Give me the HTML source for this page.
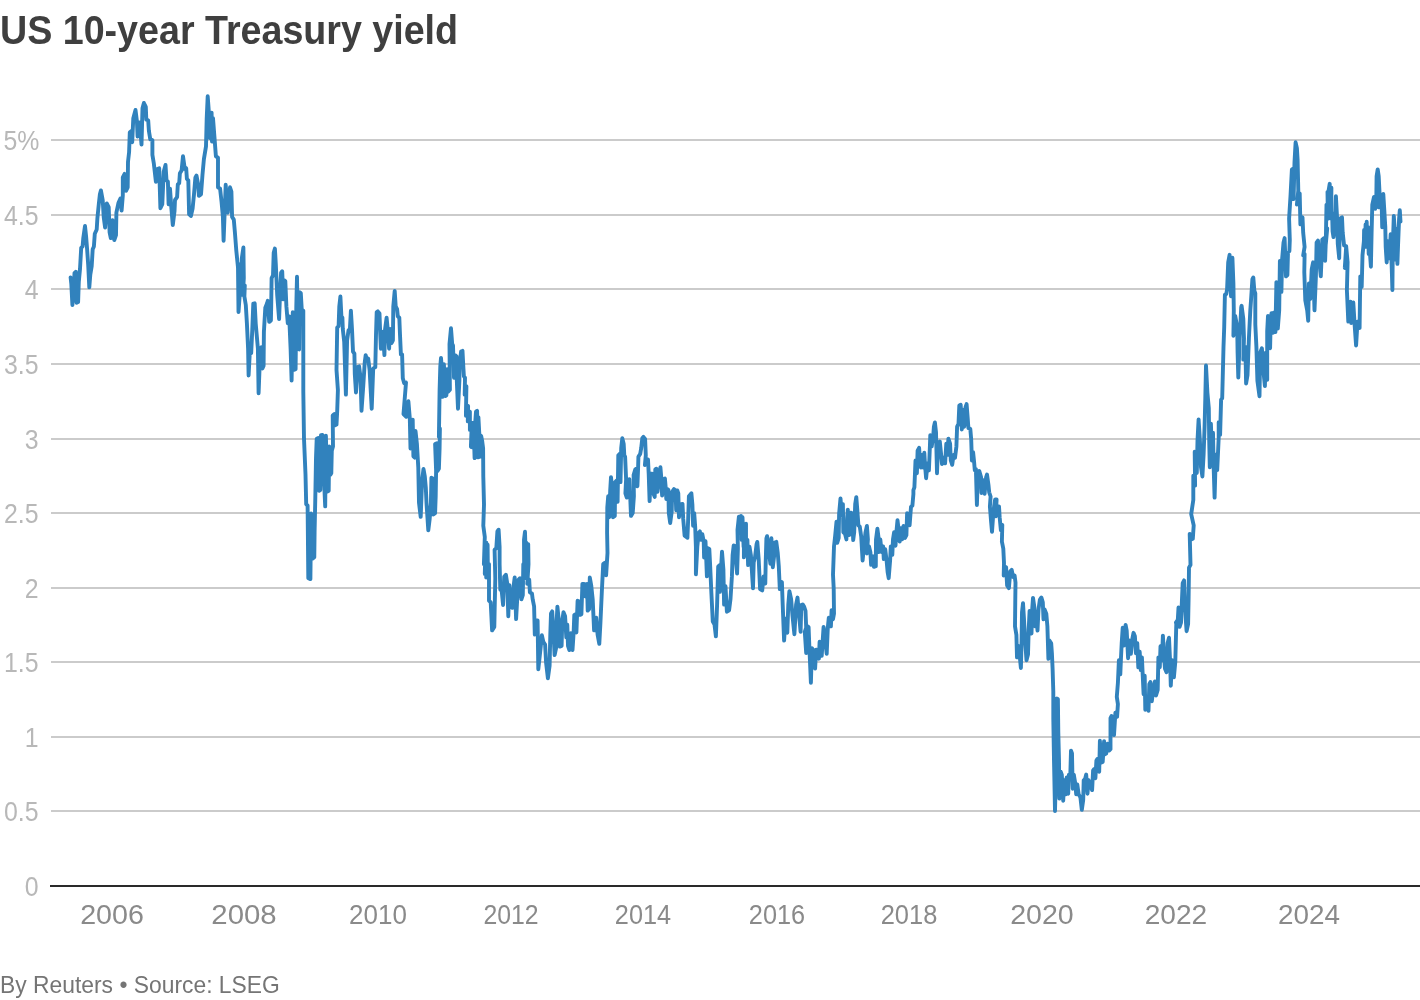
<!DOCTYPE html>
<html lang="en"><head><meta charset="utf-8"><title>US 10-year Treasury yield</title>
<style>
html,body{margin:0;padding:0;background:#fff}
body{width:1420px;height:1000px;position:relative;overflow:hidden;font-family:"Liberation Sans",sans-serif}
.title{position:absolute;left:0.4px;top:6px;font-size:41px;font-weight:bold;color:#3f3f3f;white-space:nowrap;line-height:48px;transform-origin:0 50%;transform:scaleX(0.9177)}
.gl{position:absolute;left:51px;right:0;height:2px;background:#cbcbcb}
.ax0{position:absolute;left:50px;right:0;height:2px;background:#2a2a2a}
.yl{position:absolute;left:0;width:38.5px;text-align:right;font-size:27.5px;line-height:30px;color:#b8b8b8;white-space:nowrap;transform-origin:100% 50%;transform:scaleX(0.904)}
.xl{position:absolute;top:900.3px;width:100px;text-align:center;font-size:27px;line-height:30px;color:#8a8a8a;white-space:nowrap;transform:scaleX(1.052)}
.foot{position:absolute;left:-0.4px;top:970.3px;font-size:24.4px;line-height:30px;color:#757575;white-space:nowrap;transform-origin:0 50%;transform:scaleX(0.937)}
svg{position:absolute;left:0;top:0}
</style></head><body>
<div class="title">US 10-year Treasury yield</div>
<div class="ax0" style="top:885px"></div>
<div class="yl" style="top:872.00px;width:38.5px">0</div>
<div class="gl" style="top:810px"></div>
<div class="yl" style="top:797.00px;width:38.5px">0.5</div>
<div class="gl" style="top:736px"></div>
<div class="yl" style="top:723.00px;width:38.5px">1</div>
<div class="gl" style="top:661px"></div>
<div class="yl" style="top:648.00px;width:38.5px">1.5</div>
<div class="gl" style="top:587px"></div>
<div class="yl" style="top:574.00px;width:38.5px">2</div>
<div class="gl" style="top:512px"></div>
<div class="yl" style="top:499.00px;width:38.5px">2.5</div>
<div class="gl" style="top:438px"></div>
<div class="yl" style="top:425.00px;width:38.5px">3</div>
<div class="gl" style="top:363px"></div>
<div class="yl" style="top:350.00px;width:38.5px">3.5</div>
<div class="gl" style="top:288px"></div>
<div class="yl" style="top:275.00px;width:38.5px">4</div>
<div class="gl" style="top:214px"></div>
<div class="yl" style="top:201.00px;width:38.5px">4.5</div>
<div class="gl" style="top:139px"></div>
<div class="yl" style="top:126.00px;width:36.3px">5%</div>
<div class="xl" style="left:62.11px;transform:scaleX(1.0603)">2006</div>
<div class="xl" style="left:193.62px;transform:scaleX(1.0871)">2008</div>
<div class="xl" style="left:327.76px;transform:scaleX(0.9619)">2010</div>
<div class="xl" style="left:460.72px;transform:scaleX(0.9191)">2012</div>
<div class="xl" style="left:593.04px;transform:scaleX(0.9370)">2014</div>
<div class="xl" style="left:726.71px;transform:scaleX(0.9363)">2016</div>
<div class="xl" style="left:859.21px;transform:scaleX(0.9426)">2018</div>
<div class="xl" style="left:992.32px;transform:scaleX(1.0580)">2020</div>
<div class="xl" style="left:1125.80px;transform:scaleX(1.0411)">2022</div>
<div class="xl" style="left:1258.55px;transform:scaleX(1.0310)">2024</div>

<svg width="1420" height="1000" viewBox="0 0 1420 1000"><path d="M70.6 277.4L71.3 283.8L72.4 305.0L73.7 288.7L74.5 273.2L75.8 271.8L76.6 302.8L78.1 302.1L78.8 281.7L80.0 269.0L81.2 247.8L82.6 246.4L83.3 238.0L85.0 226.0L86.1 236.5L87.1 249.2L88.2 264.8L89.3 287.3L90.3 274.6L91.7 266.2L92.7 249.2L93.9 246.4L94.8 233.7L96.7 229.5L97.4 218.2L98.8 204.1L99.9 194.2L100.9 190.4L102.7 200.0L103.7 216.9L105.1 227.5L106.8 203.5L108.7 207.1L109.6 232.3L110.8 238.0L112.5 220.3L114.3 240.1L116.0 235.1L116.4 212.6L118.5 202.7L120.4 198.5L121.6 210.5L122.8 195.6L122.8 177.4L124.6 173.9L126.0 190.8L127.7 187.3L128.0 161.9L129.1 152.1L129.8 132.3L131.7 130.9L132.2 142.2L133.3 118.2L135.5 110.0L136.9 121.0L137.6 136.5L139.7 122.4L141.5 144.6L142.5 108.3L143.9 103.0L145.8 106.9L146.3 119.6L148.2 120.3L148.9 130.9L150.3 139.4L152.4 140.1L152.4 154.9L153.8 163.3L155.9 181.7L157.3 169.0L159.2 168.3L160.4 208.2L162.3 204.2L163.7 171.8L165.5 165.0L166.5 180.3L167.9 181.7L168.6 204.2L170.0 188.7L171.4 208.5L172.8 225.1L174.5 211.3L175.0 200.0L177.1 197.2L177.8 184.5L179.2 183.1L179.9 173.2L181.6 170.4L183.0 156.3L184.8 169.0L186.2 168.3L186.9 178.9L188.3 180.3L189.1 214.1L190.9 216.0L192.6 208.5L194.0 194.4L195.4 177.4L196.5 175.6L198.2 184.5L198.9 195.8L201.0 194.4L202.5 174.6L203.9 159.1L206.0 146.4L206.7 118.2L207.7 96.3L208.8 111.2L209.8 138.0L211.6 112.6L212.0 141.5L213.0 118.2L214.4 136.5L215.9 156.3L218.0 157.7L218.0 187.3L220.1 188.7L221.5 201.4L222.9 216.9L223.6 240.8L225.7 184.8L227.8 212.7L230.0 187.3L231.4 191.6L232.1 216.9L233.8 219.6L234.9 232.3L236.3 250.6L238.0 267.6L238.5 312.1L239.9 292.3L239.0 271.2L241.0 295.1L240.4 264.1L242.4 292.3L241.8 258.5L243.4 247.5L243.8 278.2L243.0 292.3L244.8 285.3L244.4 296.5L245.8 305.0L246.9 323.3L248.1 348.7L248.6 375.5L249.7 354.4L251.2 353.0L252.3 329.0L253.3 303.6L254.7 303.3L255.7 323.3L256.8 336.0L257.9 348.7L258.6 393.2L260.3 348.7L261.3 347.3L262.4 368.5L263.6 365.7L263.9 331.8L265.3 307.8L267.0 303.6L267.8 300.8L269.2 321.9L270.9 320.5L271.2 306.4L271.6 278.2L273.0 275.4L273.7 252.8L274.9 248.6L275.8 264.1L277.2 295.1L279.1 319.1L280.1 292.3L281.1 272.6L282.2 271.2L283.3 299.4L284.3 280.3L285.3 281.0L286.4 306.4L287.8 323.3L289.2 316.3L290.6 348.7L291.6 380.5L292.8 312.1L293.8 369.9L295.6 369.2L296.3 306.4L297.0 276.8L298.0 348.7L299.1 349.4L299.8 292.3L300.8 293.0L301.9 312.1L303.3 310.6L303.3 391.0L304.0 438.7L305.5 474.6L306.2 504.2L307.6 505.7L308.3 578.3L310.4 579.1L311.1 513.5L312.5 558.6L314.3 557.2L314.6 531.8L315.3 498.0L316.0 457.7L316.7 438.7L318.2 438.0L319.1 490.8L320.3 490.1L321.0 435.1L322.4 434.9L323.8 474.6L325.2 506.4L325.9 435.8L327.3 491.6L328.7 490.8L329.2 446.4L330.4 474.6L331.3 473.2L331.8 450.6L333.0 446.4L332.7 415.4L334.4 414.0L335.1 425.3L336.5 424.6L337.2 411.2L337.9 390.0L336.5 369.9L337.2 327.6L338.6 326.2L339.3 306.4L340.4 296.5L341.4 316.3L342.4 317.7L342.8 329.0L344.2 341.7L345.9 394.6L347.1 340.3L348.5 330.4L349.9 329.0L350.9 310.6L352.0 329.0L353.0 351.6L354.4 353.7L354.8 374.1L356.0 392.5L357.6 367.1L359.1 366.4L360.5 376.9L361.5 410.8L363.3 385.4L364.7 362.8L365.7 355.1L366.8 360.0L368.2 358.6L369.6 369.9L371.7 408.7L373.2 368.5L375.3 367.1L376.0 334.6L376.7 312.1L377.8 311.4L379.5 313.5L380.2 333.2L380.9 348.7L383.0 331.8L384.4 355.1L385.1 329.0L386.6 317.7L387.7 329.0L389.1 348.7L390.1 329.0L391.5 343.1L392.9 340.3L393.3 306.4L394.7 290.9L395.7 306.4L397.1 309.2L397.8 316.3L399.3 317.7L400.0 334.6L400.9 354.4L402.1 354.4L402.8 378.3L404.2 383.3L406.0 382.6L403.5 414.0L406.3 416.8L408.4 401.3L409.8 418.2L410.5 448.5L412.7 419.6L413.4 456.3L414.8 457.7L415.5 430.9L416.9 443.6L418.3 467.6L419.0 502.8L420.7 516.9L422.1 480.3L423.5 469.0L424.8 476.4L425.8 487.7L426.6 504.6L428.3 530.3L429.7 518.7L430.9 503.2L431.4 477.8L432.8 478.5L433.3 514.5L435.1 513.1L435.7 496.2L436.1 470.8L435.1 444.0L436.8 443.3L437.5 470.8L438.9 468.7L439.6 448.2L439.9 428.5L438.9 436.9L439.6 390.4L440.3 366.4L441.0 358.0L442.2 373.5L442.7 396.7L443.9 364.3L445.3 396.0L446.4 395.3L447.0 369.2L448.1 391.8L449.9 389.7L449.5 343.9L451.0 328.3L452.3 345.3L453.0 345.3L454.0 377.7L455.1 355.1L456.5 356.5L456.8 380.5L458.0 408.7L459.4 380.5L459.6 363.6L461.1 351.6L462.5 350.9L463.3 366.4L463.9 376.3L465.0 377.7L464.7 394.6L466.4 386.2L465.9 415.8L468.1 405.9L467.8 421.4L469.9 411.6L469.9 429.9L471.8 422.8L470.9 446.8L472.8 447.5L473.5 422.8L474.6 458.1L475.2 422.8L476.0 411.6L477.1 410.8L478.0 457.4L478.4 417.2L479.4 435.5L479.8 456.7L480.5 435.5L481.2 436.2L482.2 441.2L483.1 448.2L483.3 476.4L484.0 504.6L483.3 525.7L484.8 537.0L483.9 564.1L485.5 544.4L484.8 574.0L486.4 542.7L486.2 577.5L487.6 544.8L487.9 575.4L489.0 564.1L489.0 600.8L490.7 602.2L492.1 630.4L494.3 626.9L495.3 578.2L494.6 549.8L496.3 548.3L497.4 531.4L498.6 529.7L499.6 546.9L499.6 564.1L500.3 589.5L501.7 590.9L503.1 605.0L504.2 576.8L505.9 574.7L507.3 583.9L508.3 616.3L509.4 585.3L510.8 606.4L512.3 607.8L513.7 585.3L514.7 577.5L516.1 619.1L517.2 599.4L518.6 579.6L520.0 578.2L521.4 599.4L522.8 595.1L523.3 564.1L524.2 578.2L524.0 539.8L525.0 531.7L525.9 564.1L526.4 542.7L527.1 571.2L528.2 544.1L528.5 564.1L527.3 583.9L529.2 579.6L529.9 592.3L532.0 593.7L532.7 599.4L534.1 606.4L534.8 634.6L536.2 620.5L537.6 620.5L538.3 669.2L540.5 648.7L541.9 635.3L543.3 641.7L545.1 644.5L546.1 662.8L547.9 678.3L549.6 665.7L550.3 634.6L551.0 613.5L552.2 611.4L553.6 634.6L554.6 655.1L556.0 648.7L556.7 620.5L557.4 606.7L558.8 620.5L559.8 646.6L561.6 645.9L562.3 620.5L563.5 612.1L565.1 616.3L566.3 637.4L567.3 624.8L568.0 645.9L569.4 650.1L570.8 633.2L572.5 650.1L573.6 633.2L574.3 614.9L575.7 614.2L576.4 632.5L577.6 600.8L579.3 601.5L580.0 614.9L581.4 614.2L582.4 583.9L584.2 583.9L585.6 596.5L587.0 583.9L587.7 610.6L589.1 609.2L589.8 577.5L591.2 585.3L592.7 599.4L594.1 630.4L596.2 617.7L597.6 634.6L599.3 643.8L600.4 623.3L601.8 592.3L603.2 564.1L604.9 562.7L606.1 575.4L607.5 552.8L607.1 532.8L607.3 507.4L608.2 496.2L609.2 517.3L610.2 490.5L611.0 477.1L612.0 487.7L613.0 517.3L614.8 515.9L615.2 482.1L616.6 480.6L617.6 501.8L618.3 455.3L619.7 453.9L620.5 482.1L621.2 448.2L622.3 438.3L623.7 444.0L624.3 455.3L625.1 456.7L626.1 479.2L625.4 493.3L626.8 497.6L628.2 496.2L629.3 479.2L630.3 499.0L631.0 515.9L632.7 513.1L633.9 496.2L633.6 475.0L635.3 469.4L636.4 468.7L637.4 486.3L638.1 468.0L638.4 456.7L640.2 453.9L641.2 448.2L642.3 438.3L643.4 436.9L645.1 439.0L645.8 455.3L644.9 465.1L648.0 459.5L648.7 473.6L649.6 501.1L650.8 473.6L652.2 473.6L653.3 493.3L654.7 496.9L655.3 469.4L656.4 468.7L657.5 491.9L659.2 476.4L660.4 467.2L661.4 479.2L662.1 495.5L663.5 479.2L664.9 478.5L665.6 486.3L666.3 499.0L667.4 489.1L668.4 489.8L668.8 513.1L670.2 523.0L671.7 511.7L672.2 491.9L674.0 489.1L675.5 490.5L676.2 510.3L677.3 490.5L678.3 493.3L679.0 517.3L680.7 504.6L682.5 503.9L683.2 518.7L684.6 535.7L687.4 537.8L688.2 518.7L688.9 496.2L691.4 493.3L692.4 504.6L693.1 525.8L694.2 513.1L695.2 527.2L695.9 546.9L695.9 574.3L697.3 546.9L698.7 532.8L699.9 531.4L700.8 539.9L702.3 534.2L703.7 541.3L704.1 557.5L705.5 541.3L706.1 555.3L706.9 576.4L707.9 548.2L709.3 548.9L710.0 562.3L711.4 593.3L712.8 621.6L714.5 624.4L715.9 636.4L717.1 604.6L718.2 566.5L719.9 565.1L719.9 591.9L721.0 569.4L722.0 551.7L723.4 569.4L724.1 604.6L725.5 586.3L726.9 611.7L729.1 610.3L730.5 599.0L731.9 576.4L732.6 555.3L733.7 545.4L735.1 546.1L736.1 562.3L737.1 573.6L737.9 548.2L737.5 530.0L738.9 516.6L739.6 532.8L741.0 515.9L741.7 539.9L742.5 517.3L743.6 546.9L743.9 524.4L743.9 557.4L746.0 523.7L746.0 548.2L747.4 539.9L748.1 565.1L749.5 546.8L750.9 555.3L753.0 588.4L753.7 562.3L755.1 556.7L756.6 544.0L757.3 541.9L758.7 559.5L760.1 589.1L762.2 590.5L763.6 576.4L765.3 583.5L765.7 562.3L766.4 538.3L767.1 536.2L768.5 548.2L770.4 563.7L771.4 538.3L772.8 567.2L774.2 555.3L774.9 542.6L776.3 541.9L777.7 552.4L778.8 566.5L779.8 589.1L781.9 582.1L782.7 604.6L784.1 640.6L785.5 618.7L787.3 632.8L788.3 604.6L789.4 591.2L791.1 599.0L792.5 615.9L794.4 634.2L796.1 604.6L797.5 597.6L799.2 616.4L800.6 631.9L801.3 605.1L802.7 604.4L804.1 606.5L805.5 610.8L806.2 627.7L804.8 631.9L806.2 653.1L807.6 626.3L808.6 627.0L809.5 650.3L810.9 682.7L811.9 648.2L813.3 650.3L815.1 668.6L816.1 649.6L817.5 650.3L818.9 658.7L819.6 641.8L821.7 655.9L822.7 640.4L823.6 627.0L825.0 639.0L826.7 653.8L827.8 627.7L828.8 617.8L830.9 626.3L831.6 610.1L833.0 619.2L834.0 613.6L833.7 588.2L833.0 574.6L834.0 546.4L835.1 536.5L836.5 521.7L837.2 542.9L838.7 538.0L839.1 514.0L840.5 498.5L841.9 515.4L842.9 504.1L843.3 532.3L845.0 533.7L846.4 539.4L847.1 518.2L847.8 509.7L849.2 535.1L850.6 512.6L852.1 513.3L853.2 540.1L854.2 532.3L855.2 504.1L856.3 497.1L857.4 511.2L858.4 525.3L859.8 526.7L861.2 536.5L862.6 560.5L864.0 546.4L865.5 532.3L866.9 526.0L867.9 539.4L866.9 553.5L869.0 546.4L870.4 552.1L871.1 564.8L873.2 556.3L873.9 566.9L875.8 566.2L876.0 539.4L877.4 528.8L878.6 538.0L878.9 552.1L880.3 539.4L881.7 552.1L883.1 546.4L883.8 559.1L885.2 549.2L886.6 560.5L887.6 571.8L888.7 578.2L890.1 560.5L890.8 546.4L892.3 554.9L893.0 539.4L894.1 532.3L895.5 545.7L896.5 530.9L897.5 520.3L898.6 529.5L899.7 541.5L900.7 528.1L902.1 539.4L903.5 526.0L905.0 538.0L906.4 535.1L907.1 513.3L908.8 514.0L909.6 525.3L911.0 506.9L912.4 505.5L913.4 494.2L913.4 490.1L914.4 487.3L915.5 460.5L916.9 473.2L917.6 450.6L919.1 447.8L919.8 457.7L920.9 467.6L921.9 454.9L923.3 467.6L924.3 452.8L925.1 466.2L926.1 478.2L927.5 463.3L928.9 470.4L929.9 446.4L930.3 435.1L931.7 446.4L933.2 436.5L933.9 426.7L934.9 422.4L936.0 432.3L937.0 473.2L938.1 443.6L939.8 441.5L940.9 452.1L942.0 464.0L943.7 457.7L945.1 463.3L946.3 443.6L947.3 454.9L948.4 438.7L950.1 443.6L950.8 460.5L952.2 464.8L953.6 454.9L955.0 457.7L956.4 446.4L957.1 426.7L958.5 423.9L959.3 405.5L960.7 404.8L961.8 429.5L962.8 409.7L964.2 426.7L965.6 406.9L966.6 404.1L967.7 418.2L968.4 428.1L970.3 428.8L971.2 439.4L971.9 460.5L973.1 452.1L974.1 461.9L974.8 470.4L975.9 469.0L976.9 505.0L977.9 474.6L979.3 471.1L981.1 477.4L981.5 493.0L983.2 480.3L984.6 493.7L986.1 477.4L987.0 474.6L988.5 485.3L989.2 492.3L990.6 496.5L989.9 506.4L991.0 520.5L992.0 531.8L993.0 517.7L994.1 506.4L995.2 499.4L996.6 499.4L995.8 516.3L997.6 506.4L999.0 506.4L999.7 517.7L1000.9 530.4L1002.3 524.8L1001.9 541.7L1003.3 548.7L1004.0 562.8L1003.7 575.5L1006.1 567.1L1007.1 585.4L1008.9 588.2L1010.3 571.3L1011.7 569.9L1013.1 576.9L1014.6 575.5L1015.5 582.6L1015.3 598.2L1015.0 626.4L1016.4 634.9L1017.0 657.4L1018.8 646.2L1020.9 668.0L1021.6 640.5L1022.0 612.3L1023.0 603.1L1024.0 619.4L1025.1 640.5L1026.5 660.3L1028.0 654.6L1028.7 629.2L1029.6 610.9L1031.5 633.5L1032.2 609.5L1033.0 597.9L1034.3 606.7L1035.3 626.4L1036.4 612.3L1037.5 630.6L1038.5 609.5L1039.9 599.6L1041.4 597.5L1042.8 602.4L1043.5 619.4L1044.6 609.5L1046.3 613.7L1047.4 626.4L1048.4 658.9L1049.4 640.5L1051.2 643.3L1051.9 653.2L1052.6 668.7L1053.3 691.3L1053.3 718.2L1054.0 760.5L1055.0 811.0L1056.2 760.5L1056.9 698.5L1057.9 699.2L1058.3 732.3L1059.0 760.5L1059.3 798.6L1060.7 771.8L1061.8 774.6L1063.2 800.7L1064.3 780.3L1065.8 794.4L1066.7 777.4L1068.2 793.7L1068.9 774.6L1070.3 775.3L1071.0 750.6L1072.0 753.5L1072.4 774.6L1072.8 788.7L1073.8 774.6L1075.2 783.1L1076.2 794.4L1077.3 784.5L1078.7 794.4L1080.4 797.2L1081.8 809.9L1083.2 800.0L1083.7 780.3L1085.1 778.9L1086.2 774.6L1087.5 793.7L1088.6 780.3L1090.0 783.1L1092.1 790.1L1093.1 770.4L1094.2 769.0L1095.4 778.2L1096.4 760.5L1097.3 759.1L1099.2 771.8L1099.9 740.8L1101.0 762.6L1102.7 761.9L1104.1 741.1L1104.8 754.2L1106.2 753.5L1107.6 743.6L1109.1 750.6L1110.5 749.2L1110.5 718.2L1111.5 716.1L1112.6 722.4L1114.0 735.1L1115.4 712.6L1117.1 716.8L1117.9 704.1L1116.8 696.9L1117.9 682.8L1118.9 660.3L1120.3 674.4L1121.0 657.4L1121.7 643.3L1122.7 627.8L1123.9 645.5L1125.6 625.0L1126.7 630.6L1128.1 658.2L1129.2 640.5L1130.9 653.9L1132.0 640.5L1133.5 632.8L1134.9 636.3L1135.9 653.2L1137.3 643.3L1138.3 667.3L1139.7 651.8L1140.8 670.1L1141.9 657.4L1143.6 694.1L1144.7 675.8L1145.3 709.7L1147.1 697.1L1148.5 710.9L1149.3 684.2L1150.4 682.1L1151.8 701.2L1153.2 689.9L1154.9 681.4L1156.0 695.5L1157.7 689.9L1158.4 657.4L1159.8 667.3L1160.5 646.2L1161.9 660.3L1162.9 635.6L1164.1 657.4L1165.0 668.7L1166.5 672.3L1167.6 643.3L1169.0 637.7L1170.1 661.7L1170.8 685.7L1172.1 660.3L1173.9 677.2L1175.3 661.7L1176.3 623.6L1177.5 622.2L1175.9 622.7L1177.8 619.9L1178.5 607.5L1179.6 626.9L1181.0 622.7L1182.0 598.7L1182.7 583.2L1184.1 580.4L1184.8 598.7L1185.8 619.9L1186.6 631.2L1188.1 624.1L1188.6 598.7L1189.0 567.7L1190.5 564.9L1189.7 533.9L1191.2 539.5L1192.8 538.8L1193.7 525.4L1191.2 514.1L1193.3 500.0L1193.3 475.8L1195.1 485.7L1194.7 451.8L1196.8 473.0L1197.5 440.5L1198.6 419.4L1199.9 440.5L1201.0 467.3L1202.4 476.5L1203.6 454.6L1204.6 426.4L1205.3 398.2L1206.0 365.5L1207.4 392.6L1208.8 408.1L1209.2 440.5L1209.8 467.3L1210.9 423.6L1212.0 454.6L1213.0 432.8L1213.7 468.7L1214.6 497.6L1215.8 454.6L1217.2 470.1L1218.7 437.7L1218.7 422.2L1220.1 434.9L1221.1 399.6L1222.2 398.2L1223.5 346.9L1224.2 327.2L1224.9 294.8L1226.3 294.0L1227.1 289.1L1228.2 262.3L1229.6 254.8L1231.0 296.2L1232.4 257.8L1233.4 283.5L1233.8 310.3L1233.4 335.7L1235.2 315.9L1237.2 327.2L1237.6 352.6L1238.3 377.5L1239.7 338.5L1241.2 307.4L1241.6 305.8L1243.3 318.7L1244.0 338.5L1243.3 359.6L1245.4 346.9L1246.1 383.5L1247.5 375.1L1248.9 338.5L1250.3 310.3L1251.3 296.2L1252.4 279.2L1253.3 277.5L1254.3 290.5L1255.3 293.3L1255.3 324.4L1256.4 346.9L1257.4 380.8L1259.5 396.2L1260.2 352.6L1261.9 348.3L1263.0 366.7L1264.9 386.1L1265.8 352.6L1267.2 379.8L1267.2 331.4L1268.0 315.9L1270.1 348.3L1270.5 330.0L1271.5 313.1L1272.9 332.8L1274.0 312.4L1275.4 332.1L1276.4 282.1L1277.8 328.6L1279.2 310.3L1279.9 260.9L1281.4 291.9L1282.1 259.5L1283.5 242.6L1284.6 238.1L1286.0 276.4L1287.4 275.0L1288.0 252.4L1289.4 251.0L1289.8 239.9L1289.1 218.7L1290.5 196.2L1291.9 169.4L1293.1 168.7L1293.6 199.0L1294.5 162.3L1295.6 142.3L1296.9 148.2L1297.6 159.5L1298.3 190.5L1296.9 204.6L1299.7 193.3L1300.4 224.4L1302.5 217.3L1303.2 232.8L1304.6 246.9L1303.2 255.3L1304.6 253.9L1304.3 272.2L1305.3 300.4L1307.2 310.3L1308.2 320.8L1308.9 283.5L1310.3 299.0L1311.7 269.4L1313.1 262.3L1314.5 310.3L1315.9 276.4L1316.6 242.6L1318.0 240.5L1319.4 262.3L1320.8 276.4L1322.3 239.7L1323.7 238.3L1325.1 260.9L1326.1 234.1L1327.2 228.5L1325.8 244.1L1326.1 225.8L1326.5 204.6L1327.9 218.7L1327.5 191.9L1328.9 211.7L1328.6 190.5L1329.7 183.8L1330.3 204.6L1331.4 187.7L1331.1 218.7L1332.1 213.1L1332.6 231.4L1333.5 237.1L1335.0 218.7L1335.9 196.2L1337.1 218.7L1337.8 244.1L1339.2 258.2L1339.9 218.7L1342.0 217.3L1342.7 232.8L1344.1 245.5L1346.2 246.2L1344.8 268.0L1346.2 246.8L1347.6 262.3L1346.9 290.5L1348.3 321.6L1350.5 301.8L1351.2 323.0L1353.3 302.5L1354.7 325.8L1356.1 345.5L1357.5 321.6L1359.6 327.9L1359.9 304.6L1360.3 276.4L1361.7 287.0L1362.5 255.3L1363.9 241.2L1364.1 230.0L1365.0 246.9L1365.6 224.4L1366.1 244.1L1366.7 221.8L1367.2 246.9L1368.1 227.2L1368.7 254.0L1369.5 246.9L1370.9 266.7L1371.6 232.8L1372.3 204.6L1374.0 196.9L1375.1 208.9L1376.3 199.0L1376.6 176.4L1377.7 169.4L1378.7 176.4L1379.7 196.2L1378.7 207.4L1381.5 194.8L1382.2 227.2L1383.3 194.0L1384.3 210.3L1385.3 227.2L1385.7 246.9L1386.7 262.5L1387.8 241.3L1389.3 258.2L1390.7 234.2L1392.4 290.0L1392.8 246.9L1393.8 215.9L1394.9 232.8L1395.6 259.6L1396.3 228.6L1397.4 263.9L1398.0 246.9L1399.1 218.7L1399.8 210.3L1400.5 221.6" fill="none" stroke="#3182bd" stroke-width="3.9" stroke-linejoin="round" stroke-linecap="round"/></svg>
<div class="foot">By Reuters • Source: LSEG</div>
</body></html>
